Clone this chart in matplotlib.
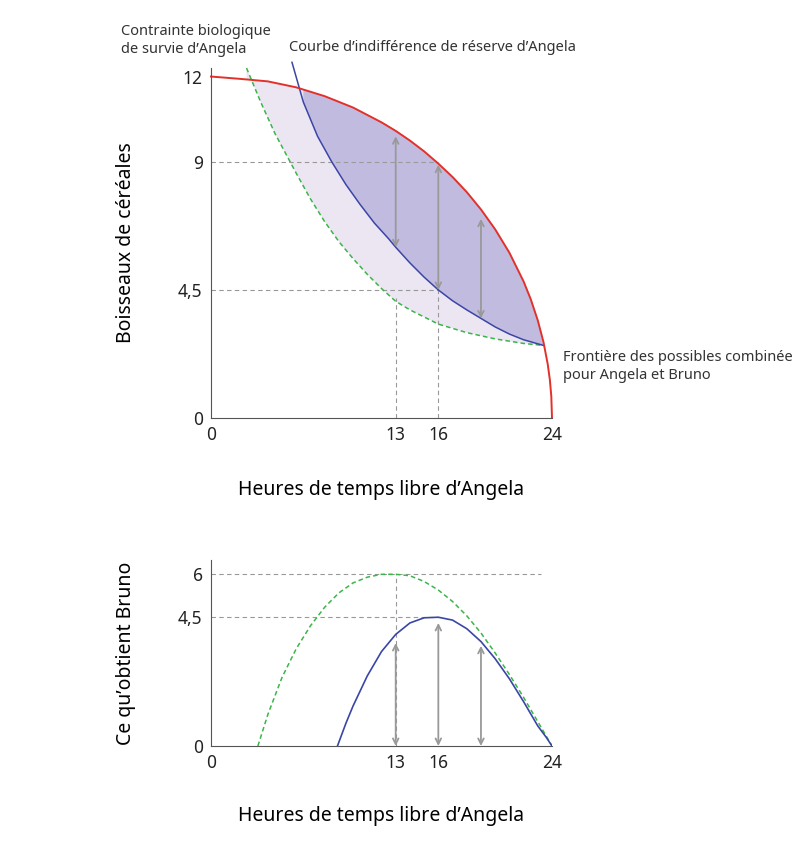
import matplotlib
matplotlib.use("Agg")
import matplotlib.pyplot as plt
import numpy as np

plt.rcParams["font.family"] = "Noto Sans"

# top panel data
front_x = [0, 2, 4, 6, 8, 10, 12, 13, 14, 15, 16, 17, 18, 19, 20, 21, 22, 22.5, 23, 23.4, 23.7, 23.85, 23.95, 24]
front_y = [12, 11.92, 11.83, 11.62, 11.31, 10.91, 10.39, 10.09, 9.75, 9.37, 8.94, 8.47, 7.94, 7.33, 6.63, 5.81, 4.80, 4.18, 3.43, 2.67, 1.89, 1.34, 0.77, 0]
ind_x = [5.7, 6.5, 7.5, 8.5, 9.5, 10.5, 11.5, 12.5, 13, 14, 15, 16, 17, 18, 19, 20, 21, 22, 23.4]
ind_y = [12.5, 11.1, 9.9, 9.0, 8.2, 7.5, 6.85, 6.3, 6.0, 5.45, 4.95, 4.5, 4.12, 3.8, 3.5, 3.2, 2.95, 2.75, 2.55]
surv_x = [2.5, 3.5, 4.5, 6, 7, 8, 9, 10, 11, 12, 13, 14, 16, 18, 20, 22, 23.4]
surv_y = [12.3, 11.1, 10.0, 8.6, 7.7, 6.9, 6.2, 5.6, 5.05, 4.55, 4.1, 3.8, 3.3, 3.0, 2.78, 2.62, 2.55]
top_arrows = [(13, 6.0, 9.9), (16, 4.5, 8.9), (19, 3.5, 7.0)]

# bottom panel data
bg_x = [3.3, 4, 5, 6, 7, 8, 9, 10, 11, 12, 13, 14, 15, 16, 17, 18, 19, 20, 21, 22, 23, 24]
bg_y = [0, 1.1, 2.4, 3.4, 4.2, 4.85, 5.35, 5.7, 5.9, 6.0, 6.0, 5.95, 5.75, 5.45, 5.05, 4.55, 3.95, 3.25, 2.5, 1.7, 0.85, 0]
bb_x = [8.9, 9.5, 10, 11, 12, 13, 14, 15, 16, 17, 18, 19, 20, 21, 22, 23, 23.6, 24]
bb_y = [0, 0.8, 1.4, 2.45, 3.3, 3.9, 4.3, 4.48, 4.5, 4.4, 4.1, 3.65, 3.05, 2.35, 1.55, 0.7, 0.3, 0]
bot_arrows = [(13, 0, 3.6), (16, 0, 4.3), (19, 0, 3.5)]

RED = "#e2312a"; BLUE = "#3a46a6"; GREEN = "#3bb54a"; GRAY = "#999999"
fig = plt.figure(figsize=(8.1, 8.42), dpi=100)

ax = fig.add_axes([211/810, 1-418/842, 341/810, 350/842])
ax.set_xlim(0, 24); ax.set_ylim(0, 12.3)
fx = np.array(front_x); fy = np.array(front_y)
sx = np.array(surv_x); ix = np.array(ind_x)
m = (fx > 2.5) & (fx < 23.4)
px = np.concatenate([[2.5], fx[m], [23.4], sx[::-1]])
py = np.concatenate([[np.interp(2.5, fx, fy)], fy[m], [2.55], np.array(surv_y)[::-1]])
ax.fill(px, py, color="#ece6f3", lw=0)
ix2 = ix[1:]; iy2 = np.array(ind_y)[1:]
m2 = (fx > 6.5) & (fx < 23.4)
qx = np.concatenate([[6.5], fx[m2], [23.4], ix2[::-1]])
qy = np.concatenate([[np.interp(6.5, fx, fy)], fy[m2], [2.55], iy2[::-1]])
ax.fill(qx, qy, color="#c2bbe0", lw=0)
dk = dict(color=GRAY, ls=(0, (4, 3)), lw=0.8)
ax.plot([0, 16], [9, 9], **dk); ax.plot([0, 16], [4.5, 4.5], **dk)
ax.plot([13, 13], [0, 4.2], **dk); ax.plot([16, 16], [0, 4.5], **dk)
ax.plot(surv_x, surv_y, color=GREEN, ls=(0, (3, 2)), lw=1.1, clip_on=False)
ax.plot(ind_x, ind_y, color=BLUE, lw=1.1, clip_on=False)
ax.plot(front_x, front_y, color=RED, lw=1.4, clip_on=False)
for x, y0, y1 in top_arrows:
    ax.annotate("", xy=(x, y1), xytext=(x, y0), arrowprops=dict(arrowstyle="<->", color=GRAY, lw=1.3, shrinkA=0, shrinkB=0))
ax.set_xticks([0, 13, 16, 24]); ax.set_xticklabels(["0", "13", "16", "24"])
ax.set_yticks([0, 4.5, 9, 12]); ax.set_yticklabels(["0", "4,5", "9", "12"])
ax.set_xlabel("Heures de temps libre d’Angela", fontsize=14, fontweight="bold", labelpad=26)
ax.set_ylabel("Boisseaux de céréales", fontsize=14, fontweight="bold", labelpad=30)
ax.text(-6.3, 12.7, "Contrainte biologique\nde survie d’Angela", fontsize=10.5, va="bottom", ha="left", color="#333333")
ax.text(5.5, 12.75, "Courbe d’indifférence de réserve d’Angela", fontsize=10.5, va="bottom", color="#333333")
ax.text(24.8, 1.8, "Frontière des possibles combinée\npour Angela et Bruno", fontsize=10.5, va="center", color="#333333", linespacing=1.3)

bx = fig.add_axes([211/810, 1-746/842, 341/810, 186/842])
bx.set_xlim(0, 24); bx.set_ylim(0, 6.5)
bx.plot([0, 23.2], [6, 6], **dk); bx.plot([0, 16], [4.5, 4.5], **dk)
bx.plot([13, 13], [0, 6], **dk)
bx.plot(bg_x, bg_y, color=GREEN, ls=(0, (3, 2)), lw=1.1)
bx.plot(bb_x, bb_y, color=BLUE, lw=1.2)
for x, y0, y1 in bot_arrows:
    bx.annotate("", xy=(x, y1), xytext=(x, y0), arrowprops=dict(arrowstyle="<->", color=GRAY, lw=1.3, shrinkA=0, shrinkB=0))
bx.set_yticks([0, 4.5, 6]); bx.set_yticklabels(["0", "4,5", "6"])
bx.set_xlabel("Heures de temps libre d’Angela", fontsize=14, fontweight="bold", labelpad=24)
bx.set_ylabel("Ce qu’obtient Bruno", fontsize=14, fontweight="bold", labelpad=30)

for a in (ax, bx):
    for s in ("top", "right"):
        a.spines[s].set_visible(False)
    for s in ("left", "bottom"):
        a.spines[s].set_color("#555555")
    a.tick_params(length=0, labelsize=12.5, colors="#222222", pad=6)
    a.set_xticks([0, 13, 16, 24]); a.set_xticklabels(["0", "13", "16", "24"])

fig.savefig("out.png", dpi=100)
